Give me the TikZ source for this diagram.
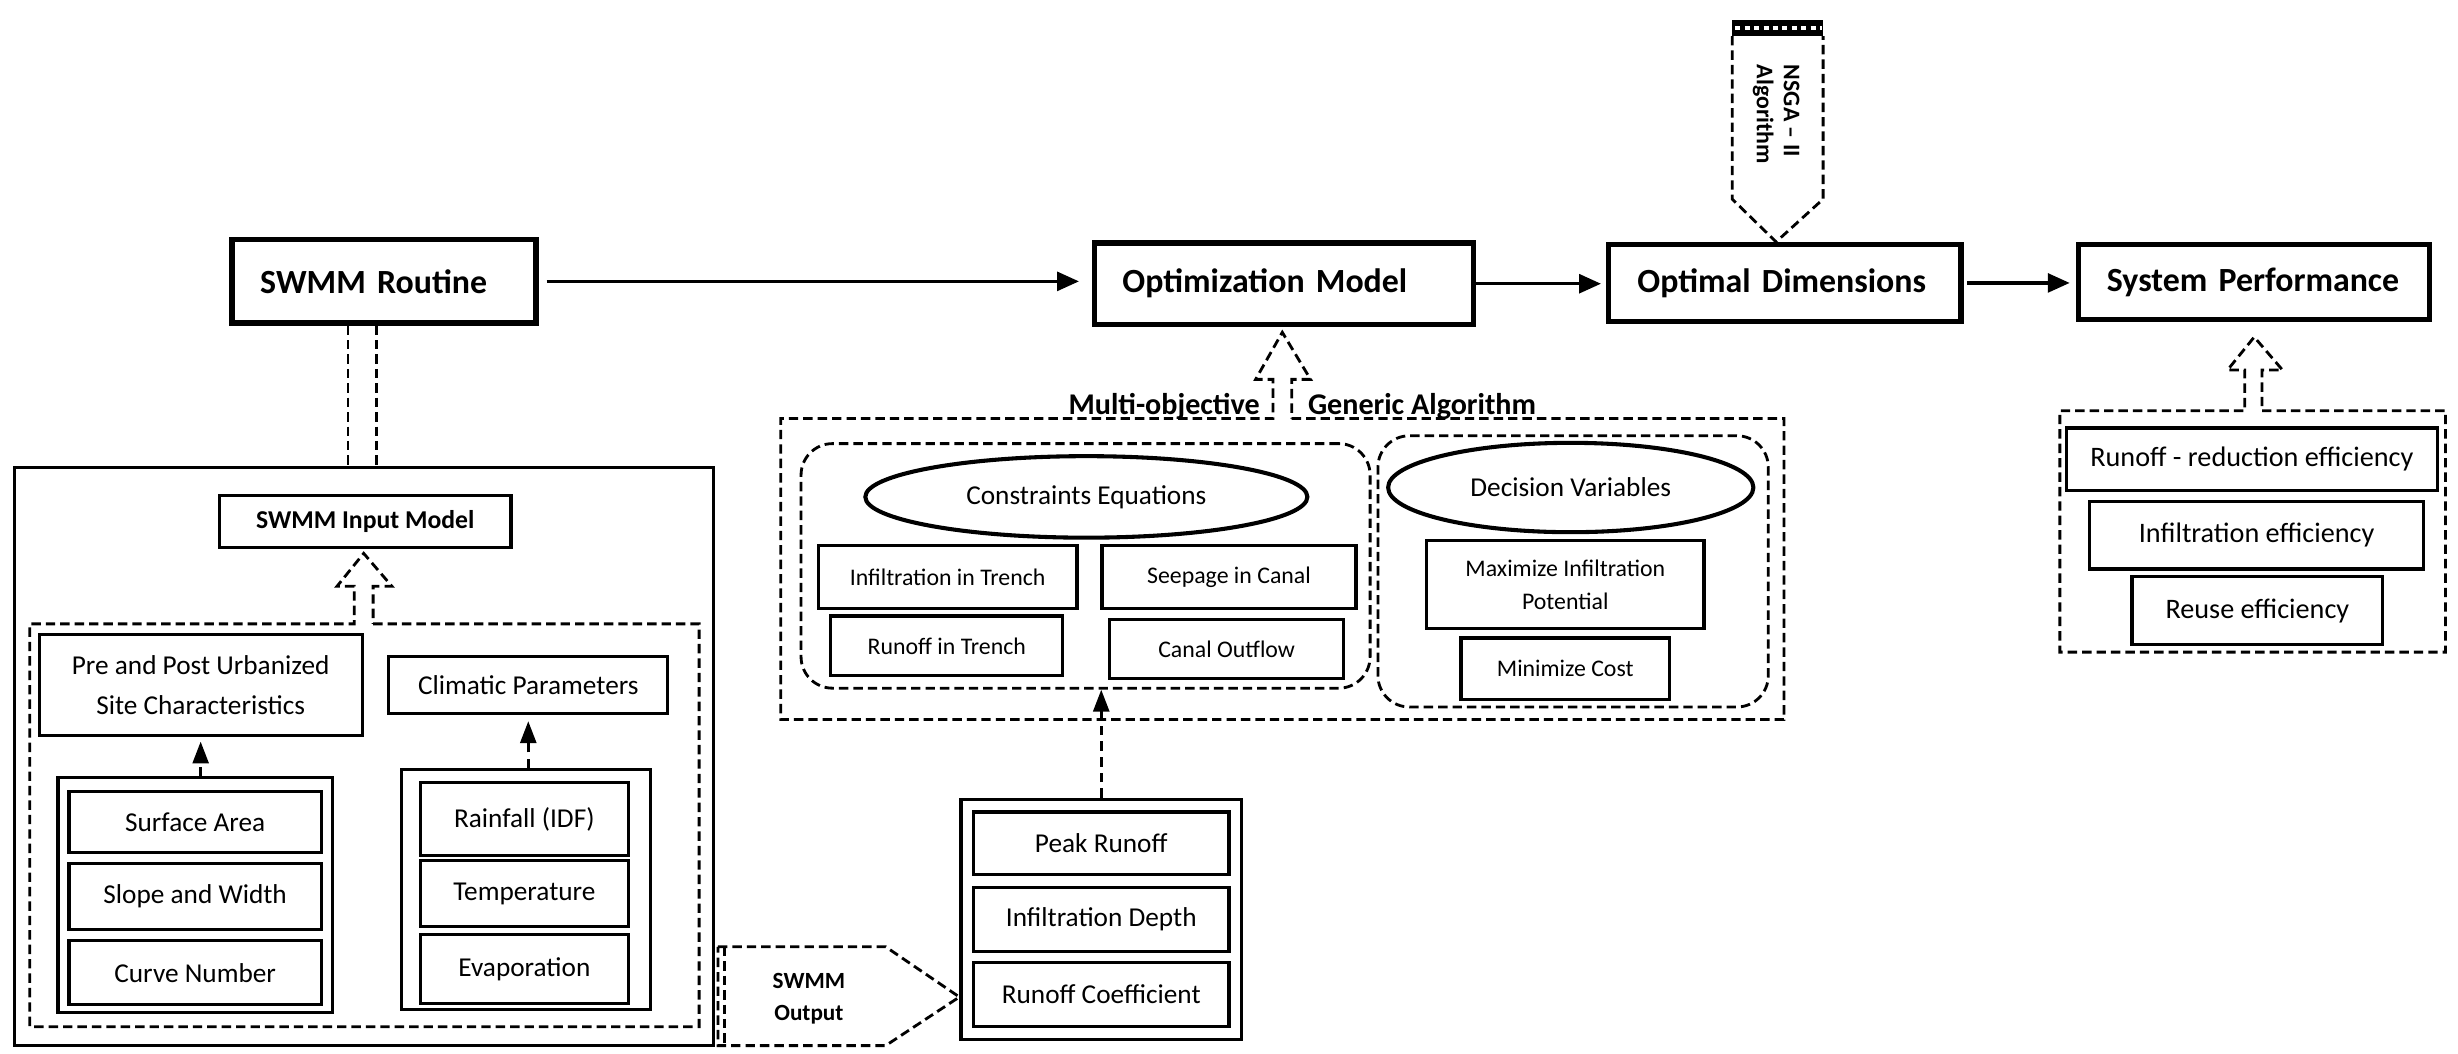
\documentclass[tikz,border=0pt]{standalone}
\usepackage{fontspec}
\setmainfont{Carlito}
\usetikzlibrary{arrows.meta,shapes.geometric}
\tikzset{
  bx/.style n args={4}{at={({(#1+#3)/2},{(#2+#4)/2})}, minimum width={(#3-#1)*0.5pt}, minimum height={(#4-#2)*0.5pt}},
  tbox/.style={draw, line width=1.7pt, inner sep=0pt, align=left, font=\bfseries\fontsize{10.8}{13}\selectfont},
  ibox/.style={draw, line width=1pt, inner sep=0pt, align=center},
  gbox/.style={draw, line width=1pt, inner sep=0pt},
  dsh/.style={draw, line width=0.9pt, dash pattern=on 3pt off 1.6pt},
  rbox/.style={dsh, rounded corners=10pt, inner sep=0pt},
  ell/.style={draw, ellipse, line width=1.3pt, inner sep=0pt},
  arr/.style={line width=1.1pt, -{Triangle[length=7pt,width=6pt]}},
  darr/.style={line width=1.1pt, dash pattern=on 3pt off 2pt, -{Triangle[length=7pt,width=5pt]}},
  fL/.style={font=\fontsize{8.7}{12.5}\selectfont},
  fM/.style={font=\fontsize{7.6}{10.5}\selectfont},
  fR/.style={font=\fontsize{9}{12}\selectfont},
}
\begin{document}
\begin{tikzpicture}[x=0.5pt,y=-0.5pt]
\useasboundingbox (0,0) rectangle (1568,672);

% top row
\node[tbox, bx={148}{153}{342}{206}, text width=79pt] (rout) {SWMM Routine};
\node[tbox, bx={698}{155}{940}{207}, text width=103pt] (opt) {Optimization Model};
\node[tbox, bx={1026}{156}{1251}{205}, text width=94pt] (dims) {Optimal Dimensions};
\node[tbox, bx={1326}{156}{1550}{204}, text width=94pt] (perf) {System Performance};

\draw[arr, shorten <=2.5pt, shorten >=4pt] (rout.east) -- (rout.east -| opt.west);
\draw[arr, shorten >=1.5pt] (opt.east) -- (opt.east -| dims.west);
\draw[arr, shorten <=1pt, shorten >=2pt] (dims.east) -- (dims.east -| perf.west);

% NSGA-II
\coordinate (nsgatip) at (dims.north -| 1133,0);
\fill[black] (1105,13) rectangle (1163,23);
\draw[white, line width=1.3pt, dash pattern=on 1.6pt off 1.4pt] (1107,18) -- (1162,18);
\draw[dsh] (1105,23) -- (1105,127) -- (nsgatip) -- (1163,127) -- (1163,23);
\node[rotate=-90, align=left, inner sep=0pt, font=\bfseries\fontsize{7.6}{8.6}\selectfont] (nsga) at (1133,73) {NSGA – II\\Algorithm};

% left block
\node[gbox, bx={9}{298}{455}{667}] (inbox) {};
\draw[dsh] ([xshift=-11.5pt]rout.south) -- ([xshift=-11.5pt]rout.south |- inbox.north);
\draw[dsh] ([xshift=-2.5pt]rout.south) -- ([xshift=-2.5pt]rout.south |- inbox.north);
\node[ibox, bx={140}{316}{326}{349}, font=\bfseries\fontsize{8.2}{10}\selectfont] (simi) {SWMM Input Model};
\draw[dsh] (238,398) -- (446,398) -- (446,655) -- (19,655) -- (19,398) -- (226,398) -- (226,374) -- (215,374) -- (232,353) -- (250,374) -- (238,374) -- cycle;

\node[ibox, fL, bx={25}{405}{231}{469}] (pre) {Pre and Post Urbanized\\Site Characteristics};
\node[ibox, fL, bx={248}{419}{426}{455}] (clim) {Climatic Parameters};

\node[gbox, bx={37}{496}{212}{646}] (lgrp) {};
\node[ibox, fL, bx={44}{505}{205}{544}] (surf) {Surface Area};
\node[ibox, fL, bx={44}{551}{205}{593}] (slope) {Slope and Width};
\node[ibox, fL, bx={44}{600}{205}{641}] (curve) {Curve Number};

\node[gbox, bx={256}{491}{415}{644}] (rgrp) {};
\node[ibox, fL, bx={268}{499}{401}{546}] (rain) {Rainfall (IDF)};
\node[ibox, fL, bx={268}{549}{401}{591}] (temp) {Temperature};
\node[ibox, fL, bx={268}{596}{401}{640}] (evap) {Evaporation};

\draw[darr, shorten >=1.5pt] (pre.south |- lgrp.north) -- (pre.south);
\draw[darr, shorten >=2pt] (clim.south |- rgrp.north) -- (clim.south);

% SWMM output
\draw[dsh] (458,604) -- (565,604) -- (612,636) -- (565,667) -- (458,667) -- cycle;
\draw[dsh] (462,604) -- (462,667);
\node[align=center, inner sep=0pt, font=\bfseries\fontsize{7.4}{10}\selectfont] (sout) at (516,637) {SWMM\\Output};

% peak group
\node[gbox, bx={613}{510}{792}{663}] (pgrp) {};
\node[ibox, fL, bx={621}{518}{784}{558}] (peak) {Peak Runoff};
\node[ibox, fL, bx={621}{566}{784}{607}] (infd) {Infiltration Depth};
\node[ibox, fL, bx={621}{614}{784}{655}] (rcoef) {Runoff Coefficient};

% middle container
\draw[dsh] (824,267) -- (1138,267) -- (1138,459) -- (498,459) -- (498,267) -- (812,267) -- (812,242) -- (801,242) -- (818,212) -- (836,242) -- (824,242) -- cycle;
\node[anchor=east, inner sep=0pt, font=\bfseries\fontsize{9.6}{11}\selectfont] (mo) at (804,259) {Multi-objective};
\node[anchor=west, inner sep=0pt, font=\bfseries\fontsize{9.6}{11}\selectfont] (ga) at (834,259) {Generic Algorithm};

\node[rbox, bx={511}{283}{874}{439}] (cbox) {};
\node[ell, fL, minimum width=141pt, minimum height=26pt] (ce) at (693,317) {Constraints Equations};
\node[ibox, fM, bx={522}{348}{687}{388}] (iit) {Infiltration in Trench};
\node[ibox, fM, bx={703}{348}{865}{388}] (sic) {Seepage in Canal};
\node[ibox, fM, bx={530}{393}{678}{431}] (rit) {Runoff in Trench};
\node[ibox, fM, bx={708}{395}{857}{433}] (co) {Canal Outflow};

\node[rbox, bx={879}{278}{1128}{451}] (dbox) {};
\node[ell, fL, minimum width=116.5pt, minimum height=28.5pt] (dv) at (1002,311) {Decision Variables};
\node[ibox, fM, bx={910}{345}{1087}{401}] (mip) {Maximize Infiltration\\Potential};
\node[ibox, fM, bx={932}{407}{1065}{446}] (mc) {Minimize Cost};

\draw[darr] (pgrp.north) -- (pgrp.north |- cbox.south);

% right block
\draw[dsh] (1443,262) -- (1560,262) -- (1560,416) -- (1314,416) -- (1314,262) -- (1432,262) -- (1432,236) -- (1421,236) -- (1438,215) -- (1456,236) -- (1443,236) -- cycle;
\node[ibox, fR, bx={1318}{273}{1555}{313}] (rre) {Runoff - reduction efficiency};
\node[ibox, fR, bx={1333}{320}{1546}{363}] (ie) {Infiltration efficiency};
\node[ibox, fR, bx={1360}{368}{1520}{411}] (re) {Reuse efficiency};
\end{tikzpicture}
\end{document}
